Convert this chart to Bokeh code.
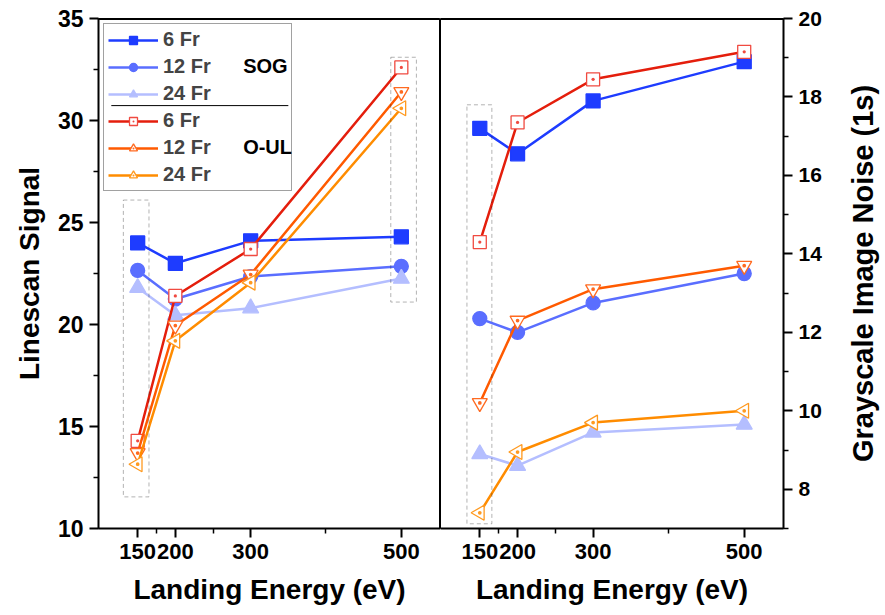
import numpy as np
from bokeh.plotting import figure
from bokeh.layouts import row
from bokeh.models import (FixedTicker, Legend, LegendItem, BoxAnnotation, Label,
                          Range1d, Arrow, Span)
from bokeh.embed import file_html
from bokeh.resources import INLINE

# ---------------- data ----------------
energy = [150, 200, 300, 500]
x_major_ticks = [150, 200, 300, 500]
x_minor_ticks = [175, 250, 400]
left_major_ticks = [10, 15, 20, 25, 30, 35]
left_minor_ticks = [12.5, 17.5, 22.5, 27.5, 32.5]
right_major_ticks = [8, 10, 12, 14, 16, 18, 20]
right_minor_ticks = [7, 9, 11, 13, 15, 17, 19]

series_labels = ["6 Fr", "12 Fr", "24 Fr", "6 Fr", "12 Fr", "24 Fr"]
group_labels = ["SOG", "O-UL"]
right_title = "Grayscale Image Noise (1s)"

# Linescan signal (left panel)
sog_signal_6 = [24.0, 23.0, 24.1, 24.3]
sog_signal_12 = [22.65, 21.25, 22.35, 22.85]
sog_signal_24 = [21.8, 20.45, 20.8, 22.25]
oul_signal_6 = [14.3, 21.4, 23.7, 32.6]
oul_signal_12 = [13.7, 19.95, 22.45, 31.4]
oul_signal_24 = [13.15, 19.2, 22.05, 30.6]

# Grayscale image noise (right panel)
sog_noise_6 = [17.2, 16.55, 17.9, 18.9]
sog_noise_12 = [12.35, 12.0, 12.75, 13.5]
sog_noise_24 = [8.9, 8.6, 9.45, 9.65]
oul_noise_6 = [14.3, 17.35, 18.45, 19.15]
oul_noise_12 = [10.2, 12.3, 13.1, 13.7]
oul_noise_24 = [7.4, 8.95, 9.7, 10.0]

# highlighted regions (dashed boxes): (left, right, bottom, top)
left_boxes = [(131, 165, 11.55, 26.1), (486, 520, 21.1, 33.1)]
right_boxes = [(133, 166, 7.12, 17.8)]

FONT = "Liberation Sans"

styles = [
    dict(color="#1E3CFF", marker="square", fill="#1E3CFF", mline="#1E3CFF", size=14, angle=0.0),
    dict(color="#5A6EFF", marker="circle", fill="#5A6EFF", mline="#5A6EFF", size=14, angle=0.0),
    dict(color="#B4BEFF", marker="triangle", fill="#B4BEFF", mline="#B4BEFF", size=16, angle=0.0),
    dict(color="#E41E0C", marker="square_dot", fill="white", mline="#F04A40", size=13, angle=0.0),
    dict(color="#FF5A00", marker="triangle_dot", fill="white", mline="#FF6A20", size=15, angle=np.pi),
    dict(color="#FF8C00", marker="triangle_dot", fill="white", mline="#FF9A20", size=15, angle=np.pi / 2),
]


def style_axis(ax, label_size, title_size="28px"):
    ax.axis_line_width = 2
    ax.axis_line_color = "black"
    ax.major_tick_line_width = 2
    ax.minor_tick_line_width = 1.5
    ax.major_tick_out = 9
    ax.major_tick_in = 0
    ax.minor_tick_out = 5
    ax.minor_tick_in = 0
    ax.major_label_text_font = FONT
    ax.major_label_text_font_style = "bold"
    ax.major_label_text_font_size = label_size
    ax.major_label_text_color = "black"
    ax.axis_label_text_font = FONT
    ax.axis_label_text_font_style = "bold"
    ax.axis_label_text_font_size = title_size
    ax.axis_label_text_color = "black"


def make_fig(width, yr, y_loc, mb_left, mb_right, top_value):
    p = figure(width=width, height=615, x_range=Range1d(98, 552), y_range=yr,
               output_backend="svg", toolbar_location=None, y_axis_location=y_loc,
               min_border_left=mb_left, min_border_right=mb_right,
               min_border_top=18, min_border_bottom=87)
    p.grid.visible = False
    p.outline_line_color = "black"
    p.outline_line_width = 1
    p.background_fill_color = "white"
    p.border_fill_color = "white"
    p.xaxis.ticker = FixedTicker(ticks=x_major_ticks, minor_ticks=x_minor_ticks)
    p.xaxis.axis_label = "Landing Energy (eV)"
    for ax in p.xaxis:
        style_axis(ax, "22px")
        ax.major_label_standoff = 6
        ax.axis_label_standoff = 12
    p.add_layout(Span(location=top_value, dimension="width", line_color="black", line_width=3))
    return p


p1 = make_fig(440, Range1d(10, 35), "left", 98, 0, 35)
p1.yaxis.ticker = FixedTicker(ticks=left_major_ticks, minor_ticks=left_minor_ticks)
p1.yaxis.axis_label = "Linescan Signal"
for ax in p1.yaxis:
    style_axis(ax, "23px")
    ax.major_label_standoff = 6
    ax.axis_label_standoff = 10

p2 = make_fig(391, Range1d(7, 20), "right", 0, 48, 20)
p2.yaxis.ticker = FixedTicker(ticks=right_major_ticks, minor_ticks=right_minor_ticks)
for ax in p2.yaxis:
    style_axis(ax, "21px")
    ax.major_label_standoff = 6

# narrow strip carrying the right-hand title (reads bottom-to-top)
p3 = figure(width=54, height=615, x_range=Range1d(0, 1), y_range=Range1d(0, 1),
            output_backend="svg", toolbar_location=None, x_axis_location=None,
            min_border_left=47, min_border_right=0, min_border_top=18, min_border_bottom=87)
p3.grid.visible = False
p3.outline_line_color = None
p3.background_fill_color = "white"
p3.border_fill_color = "white"
p3.yaxis.axis_label = right_title
for ax in p3.yaxis:
    ax.axis_label_text_font = FONT
    ax.axis_label_text_font_style = "bold"
    ax.axis_label_text_font_size = "29px"
    ax.axis_label_text_color = "black"
    ax.axis_label_standoff = 0
    ax.major_label_text_font_size = "0px"
    ax.major_label_standoff = 0
    ax.major_tick_line_color = None
    ax.minor_tick_line_color = None
    ax.axis_line_color = None
    ax.ticker = FixedTicker(ticks=[])

left_data = [sog_signal_6, sog_signal_12, sog_signal_24, oul_signal_6, oul_signal_12, oul_signal_24]
right_data = [sog_noise_6, sog_noise_12, sog_noise_24, oul_noise_6, oul_noise_12, oul_noise_24]

legend_items = []
for i, st in enumerate(styles):
    for p, ys in ((p1, left_data[i]), (p2, right_data[i])):
        lr = p.line(energy, ys, line_color=st["color"], line_width=2.5)
        sr = p.scatter(energy, ys, marker=st["marker"], size=st["size"], angle=st["angle"],
                       fill_color=st["fill"], line_color=st["mline"], line_width=1.3)
        if p is p1:
            legend_items.append(LegendItem(label=series_labels[i], renderers=[lr, sr]))

for (l, r, b, t) in left_boxes:
    p1.add_layout(BoxAnnotation(left=l, right=r, bottom=b, top=t, fill_alpha=0,
                                line_color="black", line_width=1, line_dash="4 3"))
for (l, r, b, t) in right_boxes:
    p2.add_layout(BoxAnnotation(left=l, right=r, bottom=b, top=t, fill_alpha=0,
                                line_color="black", line_width=1, line_dash="4 3"))

legend = Legend(items=legend_items, location="top_left", margin=5, padding=4, spacing=4,
                glyph_width=50, glyph_height=20, label_height=20, label_standoff=5,
                label_width=124, label_text_font=FONT, label_text_font_style="bold",
                label_text_font_size="20px", border_line_color="#444444",
                border_line_width=1, background_fill_alpha=0)
p1.add_layout(legend)

# group labels and separator inside legend
p1.add_layout(Label(x=290, y=32.68, text=group_labels[0], text_font=FONT, text_font_style="bold",
                    text_font_size="20px", text_baseline="middle", text_color="black"))
p1.add_layout(Label(x=290, y=28.69, text=group_labels[1], text_font=FONT, text_font_style="bold",
                    text_font_size="20px", text_baseline="middle", text_color="black"))
p1.add_layout(Arrow(end=None, x_start=115, y_start=30.73, x_end=350, y_end=30.73,
                    line_color="black", line_width=1))

layout = row(p1, p2, p3, spacing=0)
open("out.html", "w").write(file_html(layout, INLINE))
